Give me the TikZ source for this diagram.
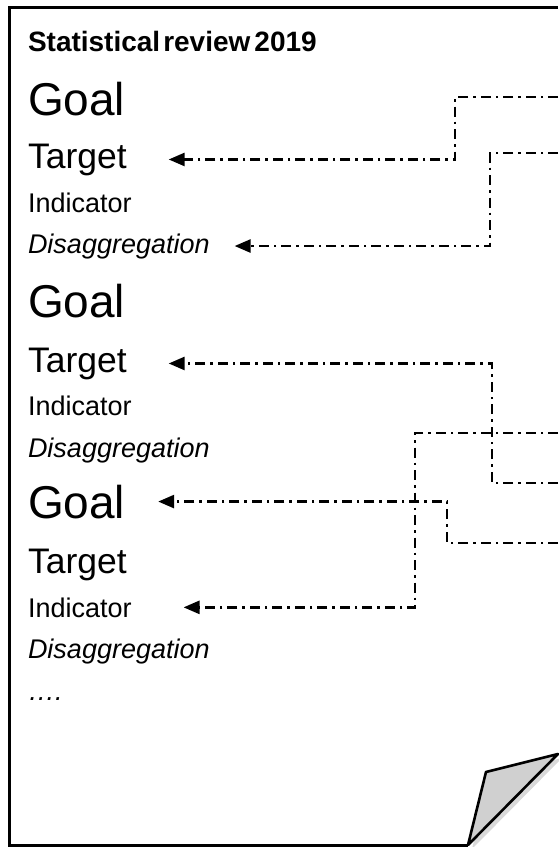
\documentclass[tikz,border=0pt]{standalone}
\usepackage{fontspec}
\setmainfont{Liberation Sans}
\usepackage{xcolor}
\usetikzlibrary{arrows.meta,positioning,calc,shadows}
\definecolor{FoldGray}{HTML}{D0D0D0}

\begin{document}
\begin{tikzpicture}[x=1pt,y=-1pt,
    entry/.style={anchor=base west, inner sep=0pt, outer sep=0pt},
    goaltxt/.style={entry, font=\fontsize{46}{50}\selectfont},
    targettxt/.style={entry, font=\fontsize{35.5}{40}\selectfont},
    indtxt/.style={entry, font=\fontsize{27}{30}\selectfont},
    distxt/.style={entry, font=\fontsize{27}{30}\selectfont\itshape},
    link/.style={line width=2.6pt,
      dash pattern=on 10pt off 5pt on 2.5pt off 5pt,
      -{Triangle[length=16pt,width=13pt]}}]
  \useasboundingbox (0,0) rectangle (558,847);

  % the page with its folded corner
  \draw[line width=3pt] (558,7) -- (9,7) -- (9,845) -- (468,845);
  \draw[line width=2.6pt, line join=round, fill=FoldGray,
        drop shadow={shadow xshift=4pt, shadow yshift=-4pt, opacity=.3}]
    (468,845) -- (486,772) -- (558,754) -- cycle;

  \node[entry, font=\fontsize{28}{30}\selectfont\bfseries] (title)
    at (28,51) {Statistical\hspace{3pt}review\hspace{4pt}2019};

  % first block
  \node[goaltxt]   (goalA)   at (28,115) {Goal};
  \node[targettxt] (targetA) at (28,168) {Target};
  \node[indtxt]    (indA)    at (28,212) {Indicator};
  \node[distxt]    (disA)    at (28,253) {Disaggregation};
  % second block
  \node[goaltxt]   (goalB)   at (28,317) {Goal};
  \node[targettxt] (targetB) at (28,372) {Target};
  \node[indtxt]    (indB)    at (28,415) {Indicator};
  \node[distxt]    (disB)    at (28,457) {Disaggregation};
  % third block
  \node[goaltxt]   (goalC)   at (28,518) {Goal};
  \node[targettxt] (targetC) at (28,573) {Target};
  \node[indtxt]    (indC)    at (28,617) {Indicator};
  \node[distxt]    (disC)    at (28,658) {Disaggregation};
  \node[distxt]    (more)    at (28,700) {….};

  % incoming links from the right edge
  \coordinate (srcA) at (558,97);
  \coordinate (srcB) at (558,153);
  \coordinate (srcC) at (558,483);
  \coordinate (srcD) at (558,433);
  \coordinate (srcE) at (558,543);
  \coordinate (vA) at (455,0);
  \coordinate (vB) at (490,0);
  \coordinate (vC) at (492,0);
  \coordinate (vD) at (415,0);
  \coordinate (vE) at (447,0);

  \draw[link] (srcA) -| (vA |- targetA.east) -- ([xshift=42pt]targetA.east);
  \draw[link] (srcB) -| (vB |- disA.east) -- ([xshift=25pt]disA.east);
  \draw[link] (srcC) -| (vC |- targetB.east) -- ([xshift=42pt]targetB.east);
  \draw[link] (srcD) -| (vD |- indC.east) -- ([xshift=52pt]indC.east);
  \draw[link] (srcE) -| (vE |- goalC.east) -- ([xshift=33pt]goalC.east);
\end{tikzpicture}
\end{document}
